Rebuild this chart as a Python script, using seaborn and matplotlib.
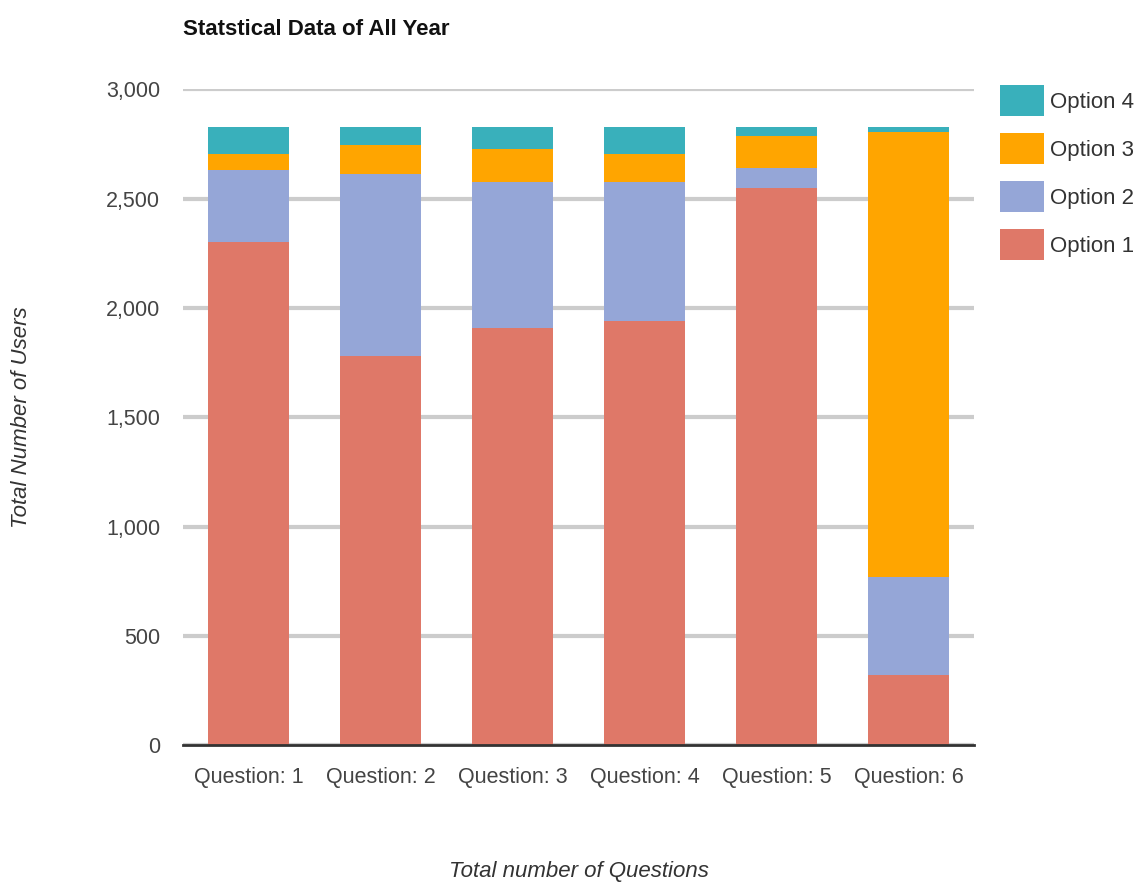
import numpy as np
import pandas as pd
import matplotlib
matplotlib.use('Agg')
import matplotlib.pyplot as plt
import seaborn as sns
from matplotlib.patches import Patch
from matplotlib.ticker import FuncFormatter

# dados
perguntas = ['Question: 1', 'Question: 2', 'Question: 3', 'Question: 4', 'Question: 5', 'Question: 6']
opcao1 = [2300, 1782, 1908, 1939, 2550, 320]
opcao2 = [329, 832, 668, 637, 91, 450]
opcao3 = [73, 129, 149, 126, 145, 2034]
opcao4 = [125, 84, 102, 125, 41, 23]

nomes = ['Option 1', 'Option 2', 'Option 3', 'Option 4']
cores = ['#DF7868', '#95A6D7', '#FFA500', '#39B0BB']

df = pd.DataFrame({'pergunta': perguntas, 'Option 1': opcao1, 'Option 2': opcao2,
                   'Option 3': opcao3, 'Option 4': opcao4})
acum = df[nomes].cumsum(axis=1)

sns.set_style('white')
plt.rcParams['font.family'] = ['Liberation Sans', 'DejaVu Sans']

fig = plt.figure(figsize=(11.41, 8.84), dpi=100)
ax = fig.add_axes([0.16, 0.157, 0.694, 0.742])

# barras empilhadas: desenha do total para baixo
for nome, cor in reversed(list(zip(nomes, cores))):
    sns.barplot(x=df['pergunta'], y=acum[nome], color=cor, saturation=1,
                width=0.62, linewidth=0, ax=ax, zorder=3)

ax.set_ylim(0, 3000)
ax.set_xlim(-0.5, 5.5)
ax.set_yticks(np.arange(0, 3001, 500))
ax.yaxis.set_major_formatter(FuncFormatter(lambda v, p: f'{int(v):,}'))
ax.grid(axis='y', color='#CCCCCC', linewidth=3, zorder=0)
ax.grid(axis='x', visible=False)
for s in ['top', 'right', 'left']:
    ax.spines[s].set_visible(False)
ax.spines['bottom'].set_color('#333333')
ax.spines['bottom'].set_linewidth(2)
ax.spines['bottom'].set_zorder(4)
ax.tick_params(axis='both', length=0, labelsize=15.5, colors='#444444')
ax.tick_params(axis='x', pad=16)
ax.tick_params(axis='y', pad=16)

ax.set_xlabel('Total number of Questions', fontsize=16, style='italic', color='#333333')
ax.set_ylabel('Total Number of Users', fontsize=16, style='italic', color='#333333')
ax.xaxis.set_label_coords(0.5, -0.177)
ax.yaxis.set_label_coords(-0.19, 0.5)

fig.text(0.16, 0.967, 'Statstical Data of All Year', fontsize=16, fontweight='bold',
         color='#111111', va='center', ha='left')

handles = [Patch(facecolor=c, edgecolor='none') for c in reversed(cores)]
fig.legend(handles, list(reversed(nomes)), loc='upper left', bbox_to_anchor=(0.876, 0.904),
           frameon=False, fontsize=16, handlelength=2.0, handleheight=1.77,
           labelspacing=0.77, handletextpad=0.25, borderaxespad=0, borderpad=0,
           labelcolor='#333333')

plt.savefig('out.png', dpi=100)
